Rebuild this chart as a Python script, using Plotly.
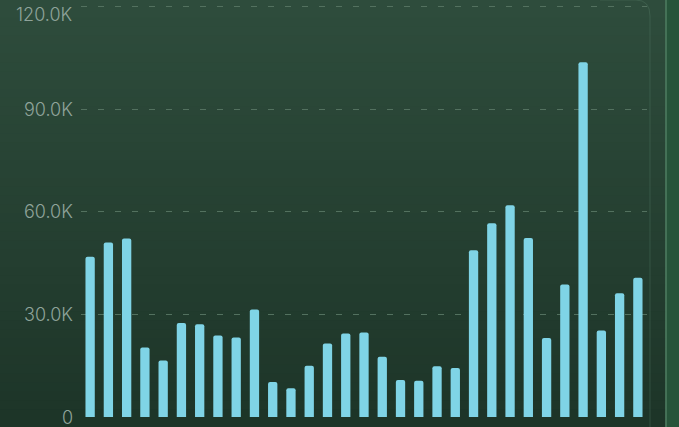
import plotly.graph_objects as go

days = [str(i) for i in range(1, 32)]
values = [46800, 51000, 52200, 20300, 16500, 27500, 27100, 23800, 23200, 31400,
          10200, 8400, 15000, 21500, 24400, 24700, 17600, 10800, 10600, 14800,
          14300, 48700, 56600, 61900, 52300, 23100, 38700, 103700, 25300, 36200, 40700]
tick_vals = [0, 30000, 60000, 90000, 120000]
tick_text = ["0", "30.0K", "60.0K", "90.0K", "120.0K"]

W, H = 679, 427
ml, mr, mt, mb = 81, 32, 3, 10
pw = W - ml - mr
ph = H - mt - mb


def px_to_paper_x(px):
    return (px - ml) / pw


def py_to_paper_y(py):
    return 1 - (py - mt) / ph


shapes = []
shapes.append(dict(type="rect", xref="paper", yref="paper",
                   x0=px_to_paper_x(-5), x1=px_to_paper_x(W + 5),
                   y0=py_to_paper_y(H + 5), y1=py_to_paper_y(-5),
                   fillcolor="#27543a", line_width=0, layer="below"))
n = 48
top = (46, 76, 60)
bot = (29, 53, 40)
for i in range(n):
    t = i / (n - 1)
    c = tuple(int(round(top[k] + (bot[k] - top[k]) * t)) for k in range(3))
    y0p = i * H / n - (5 if i == 0 else 0)
    y1p = (i + 1) * H / n + 1 + (5 if i == n - 1 else 0)
    shapes.append(dict(type="rect", xref="paper", yref="paper",
                       x0=px_to_paper_x(-5), x1=px_to_paper_x(665.5),
                       y0=py_to_paper_y(y1p), y1=py_to_paper_y(y0p),
                       fillcolor="rgb(%d,%d,%d)" % c, line_width=0, layer="below"))
shapes.append(dict(type="line", xref="paper", yref="paper",
                   x0=px_to_paper_x(666), x1=px_to_paper_x(666),
                   y0=py_to_paper_y(H + 5), y1=py_to_paper_y(-5),
                   line=dict(color="#4f7d62", width=1.5), layer="below"))
shapes.append(dict(type="path", xref="paper", yref="paper",
                   path="M %f %f L %f %f Q %f %f %f %f L %f %f" % (
                       px_to_paper_x(600), py_to_paper_y(0),
                       px_to_paper_x(636), py_to_paper_y(0),
                       px_to_paper_x(650), py_to_paper_y(0),
                       px_to_paper_x(650), py_to_paper_y(16),
                       px_to_paper_x(650), py_to_paper_y(H + 5)),
                   line=dict(color="rgba(90,130,105,0.35)", width=1), layer="below"))

# y tick labels as annotations (top label sits slightly below its gridline)
annotations = []
for v, txt in zip(tick_vals, tick_text):
    annotations.append(dict(x=0, xref="paper", y=v, yref="y", text=txt,
                            showarrow=False, xanchor="right", yanchor="middle",
                            xshift=-6, yshift=(-8 if v == max(tick_vals) else 0),
                            font=dict(family="Inter", color="#8fa39a", size=18,
                                      weight=300)))

fig = go.Figure()
fig.add_trace(go.Bar(x=days, y=values,
                     marker=dict(color="#7fd4e6", cornerradius=2, line_width=0),
                     width=0.51))
fig.update_layout(
    width=W, height=H,
    margin=dict(l=ml, r=mr, t=mt, b=mb, pad=0),
    paper_bgcolor="#1e3628", plot_bgcolor="rgba(0,0,0,0)",
    showlegend=False, shapes=shapes, annotations=annotations,
    font=dict(family="Inter", color="#8fa39a", size=18),
    xaxis=dict(showticklabels=False, showgrid=False, zeroline=False, showline=False,
               ticks="", range=[-0.5, 30.5]),
    yaxis=dict(range=[0, 121000], tickvals=tick_vals, showticklabels=False,
               showgrid=True, gridcolor="#53715f", griddash="6px,11px", gridwidth=1,
               zeroline=False, showline=False, ticks=""),
)
fig.write_html("out.html", config={"displayModeBar": False},
               post_script="document.body.style.margin='0';document.body.style.overflow='hidden';")
